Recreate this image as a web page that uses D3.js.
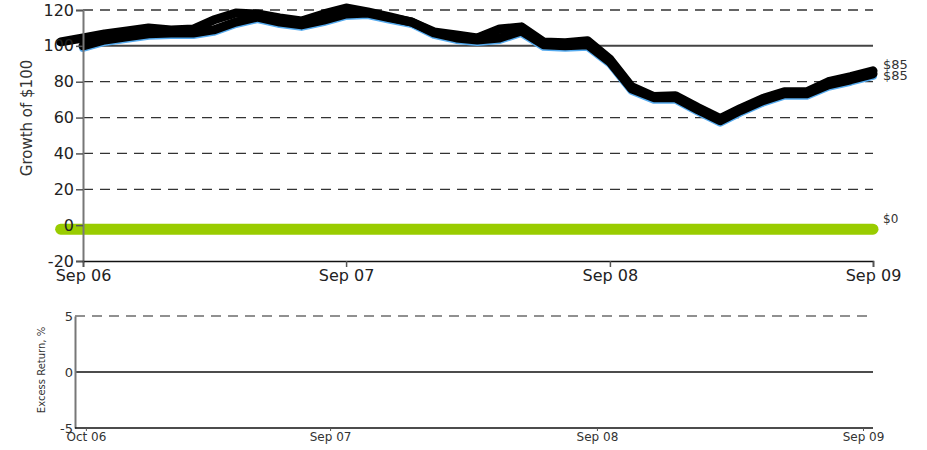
<!DOCTYPE html>
<html>
<head>
<meta charset="utf-8">
<script src="https://cdn.jsdelivr.net/npm/d3@7"></script>
<style>
  body { margin: 0; background: #fff; }
  text { font-family: "DejaVu Sans", Verdana, sans-serif; }
</style>
</head>
<body>
<div id="container"></div>
<script>
let w = 927;
let h = 450;

// upper series starts one month earlier (Aug 06)
let upperValues = [102.2, 104.4, 106.7, 108.3, 110, 108.9, 109.4, 114.4, 118.3, 117.8, 115.6, 113.9,
  117.8, 121.1, 118.9, 116.1, 113.3, 107.8, 106.1, 104.4, 109.4, 110.6, 102.2, 101.7, 102.8,
  92.5, 77.2, 71.7, 72.2, 65.6, 59.4, 65, 70.6, 74.4, 74.4, 80, 82.8, 86.1];
// lower series Sep 06 - Sep 09
let lowerValues = [100, 103.3, 105, 106.7, 107.2, 107.2, 108.9, 113.3, 116.1, 113.3, 111.7, 114.4,
  117.8, 118.3, 115.6, 113.3, 107.2, 104.4, 103.3, 104.4, 108.3, 100.6, 100, 100.6,
  91.1, 76.1, 71.1, 71.1, 64.4, 58.3, 63.9, 69.4, 73.3, 73.3, 78.3, 81.1, 84.4];
let zeroValue = 0;

let yTicks = [-20, 0, 20, 40, 60, 80, 100, 120];
let xTickDates = [new Date(2006, 8, 1), new Date(2007, 8, 1), new Date(2008, 8, 1), new Date(2009, 8, 1)];
let xTickLabels = ["Sep 06", "Sep 07", "Sep 08", "Sep 09"];
let bottomTickDates = [new Date(2006, 9, 1), new Date(2007, 8, 1), new Date(2008, 8, 1), new Date(2009, 8, 1)];
let bottomTickLabels = ["Oct 06", "Sep 07", "Sep 08", "Sep 09"];
let excessTicks = [-5, 0, 5];
let endLabels = ["$85", "$85"];

let upperDates = upperValues.map(function(d, i){ return new Date(2006, 7 + i, 1); });
let lowerDates = lowerValues.map(function(d, i){ return new Date(2006, 8 + i, 1); });

let viz = d3.select("#container")
  .append("svg")
    .attr("width", w)
    .attr("height", h)
;

// ---------- top panel ----------
let xScale = d3.scaleTime().domain([new Date(2006, 8, 1), new Date(2009, 8, 1)]).range([83, 873]);
let yScale = d3.scaleLinear().domain([-20, 120]).range([261, 10]);

// grid
viz.append("g").selectAll("line").data(yTicks.filter(function(d){ return d > -20 && d != 0; }))
  .enter().append("line")
    .attr("x1", 83).attr("x2", 873)
    .attr("y1", function(d){ return yScale(d); })
    .attr("y2", function(d){ return yScale(d); })
    .attr("stroke", function(d){ return d == 100 ? "#444" : "#333"; })
    .attr("stroke-width", function(d){ return d == 100 ? 2 : 1.3; })
    .attr("stroke-dasharray", function(d){ return d == 100 ? null : "10,7"; })
;

// lines
let upperData = upperValues.map(function(d, i){ return {date: upperDates[i], value: d}; });
let lowerData = lowerValues.map(function(d, i){ return {date: lowerDates[i], value: d}; });
let zeroData = [{date: upperDates[0], value: zeroValue}, {date: lowerDates[lowerDates.length - 1], value: zeroValue}];

let lineMaker = d3.line()
  .x(function(d){ return xScale(d.date); })
  .y(function(d){ return yScale(d.value); });

viz.append("path")
  .datum(zeroData)
  .attr("d", lineMaker)
  .attr("fill", "none")
  .attr("stroke", "#99cc00")
  .attr("stroke-width", 11)
  .attr("stroke-linecap", "round")
  .attr("transform", "translate(0,4)")
;

viz.append("path")
  .datum(lowerData)
  .attr("d", lineMaker)
  .attr("fill", "none")
  .attr("stroke", "#55aaee")
  .attr("stroke-width", 8)
  .attr("stroke-linejoin", "round")
  .attr("stroke-linecap", "round")
  .attr("transform", "translate(0,2)")
;

[upperData, lowerData].forEach(function(series){
  viz.append("path")
    .datum(series)
    .attr("d", lineMaker)
    .attr("fill", "none")
    .attr("stroke", "#000")
    .attr("stroke-width", 9)
    .attr("stroke-linejoin", "round")
    .attr("stroke-linecap", "round")
  ;
});

// y axis (drawn after the lines so the "0" label sits on the green bar)
let yAxis = d3.axisLeft(yScale).tickValues(yTicks).tickSize(7).tickPadding(2)
  .tickFormat(function(d){ return String(d); });
let yAxisGroup = viz.append("g").attr("transform", "translate(83,0)").call(yAxis);
yAxisGroup.select(".domain").attr("stroke", "#777").attr("stroke-width", 2);
yAxisGroup.selectAll(".tick line").attr("stroke", "#555").attr("stroke-width", 1.5);
yAxisGroup.selectAll(".tick text").attr("font-size", 16).attr("fill", "#222")
  .attr("font-family", "DejaVu Sans");

// x axis
let xAxis = d3.axisBottom(xScale).tickValues(xTickDates).tickSize(6).tickPadding(3)
  .tickFormat(function(d, i){ return xTickLabels[i]; });
let xAxisGroup = viz.append("g").attr("transform", "translate(0," + yScale(-20) + ")").call(xAxis);
xAxisGroup.select(".domain").attr("stroke", "#111").attr("stroke-width", 1.5);
xAxisGroup.selectAll(".tick line").attr("stroke", "#555").attr("stroke-width", 1.5);
xAxisGroup.selectAll(".tick text").attr("font-size", 16).attr("fill", "#222")
  .attr("font-family", "DejaVu Sans");

viz.append("text")
  .text("Growth of $100")
  .attr("transform", "translate(32,118) rotate(-90)")
  .attr("text-anchor", "middle")
  .attr("font-size", 15)
  .attr("fill", "#333")
;

viz.append("g").selectAll("text").data(endLabels)
  .enter().append("text")
    .text(function(d){ return d; })
    .attr("x", 883)
    .attr("y", function(d, i){ return 69 + i * 11; })
    .attr("font-size", 13)
    .attr("fill", "#333")
;
viz.append("text")
  .text("$0")
  .attr("x", 883)
  .attr("y", 223)
  .attr("font-size", 12)
  .attr("fill", "#333")
;

// ---------- bottom panel ----------
let xScale2 = d3.scaleTime().domain([new Date(2006, 8, 1), new Date(2009, 8, 1)]).range([64, 863]);
let yScale2 = d3.scaleLinear().domain([-5, 5]).range([428, 316]);

viz.append("line")
  .attr("x1", 75).attr("x2", 873)
  .attr("y1", yScale2(5)).attr("y2", yScale2(5))
  .attr("stroke", "#222").attr("stroke-width", 1.2).attr("stroke-dasharray", "10,7");
viz.append("line")
  .attr("x1", 75).attr("x2", 873)
  .attr("y1", yScale2(0)).attr("y2", yScale2(0))
  .attr("stroke", "#111").attr("stroke-width", 1.3);

let yAxis2 = d3.axisLeft(yScale2).tickValues(excessTicks).tickSize(0).tickPadding(2)
  .tickFormat(function(d){ return String(d); });
let yAxisGroup2 = viz.append("g").attr("transform", "translate(75,0)").call(yAxis2);
yAxisGroup2.select(".domain").attr("stroke", "#777").attr("stroke-width", 2);
yAxisGroup2.selectAll(".tick text").attr("font-size", 13).attr("fill", "#333")
  .attr("font-family", "DejaVu Sans");

viz.append("line")
  .attr("x1", 75).attr("x2", 873)
  .attr("y1", yScale2(-5)).attr("y2", yScale2(-5))
  .attr("stroke", "#111").attr("stroke-width", 1.3);

let xAxis2 = d3.axisBottom(xScale2).tickValues(bottomTickDates).tickSize(3).tickPadding(1)
  .tickFormat(function(d, i){ return bottomTickLabels[i]; });
let xAxisGroup2 = viz.append("g").attr("transform", "translate(0," + yScale2(-5) + ")").call(xAxis2);
xAxisGroup2.select(".domain").remove();
xAxisGroup2.selectAll(".tick line").attr("stroke", "#555");
xAxisGroup2.selectAll(".tick text").attr("font-size", 12).attr("fill", "#333")
  .attr("font-family", "DejaVu Sans");

viz.append("text")
  .text("Excess Return, %")
  .attr("transform", "translate(45,370) rotate(-90)")
  .attr("text-anchor", "middle")
  .attr("font-size", 10)
  .attr("fill", "#333")
;
</script>
</body>
</html>
